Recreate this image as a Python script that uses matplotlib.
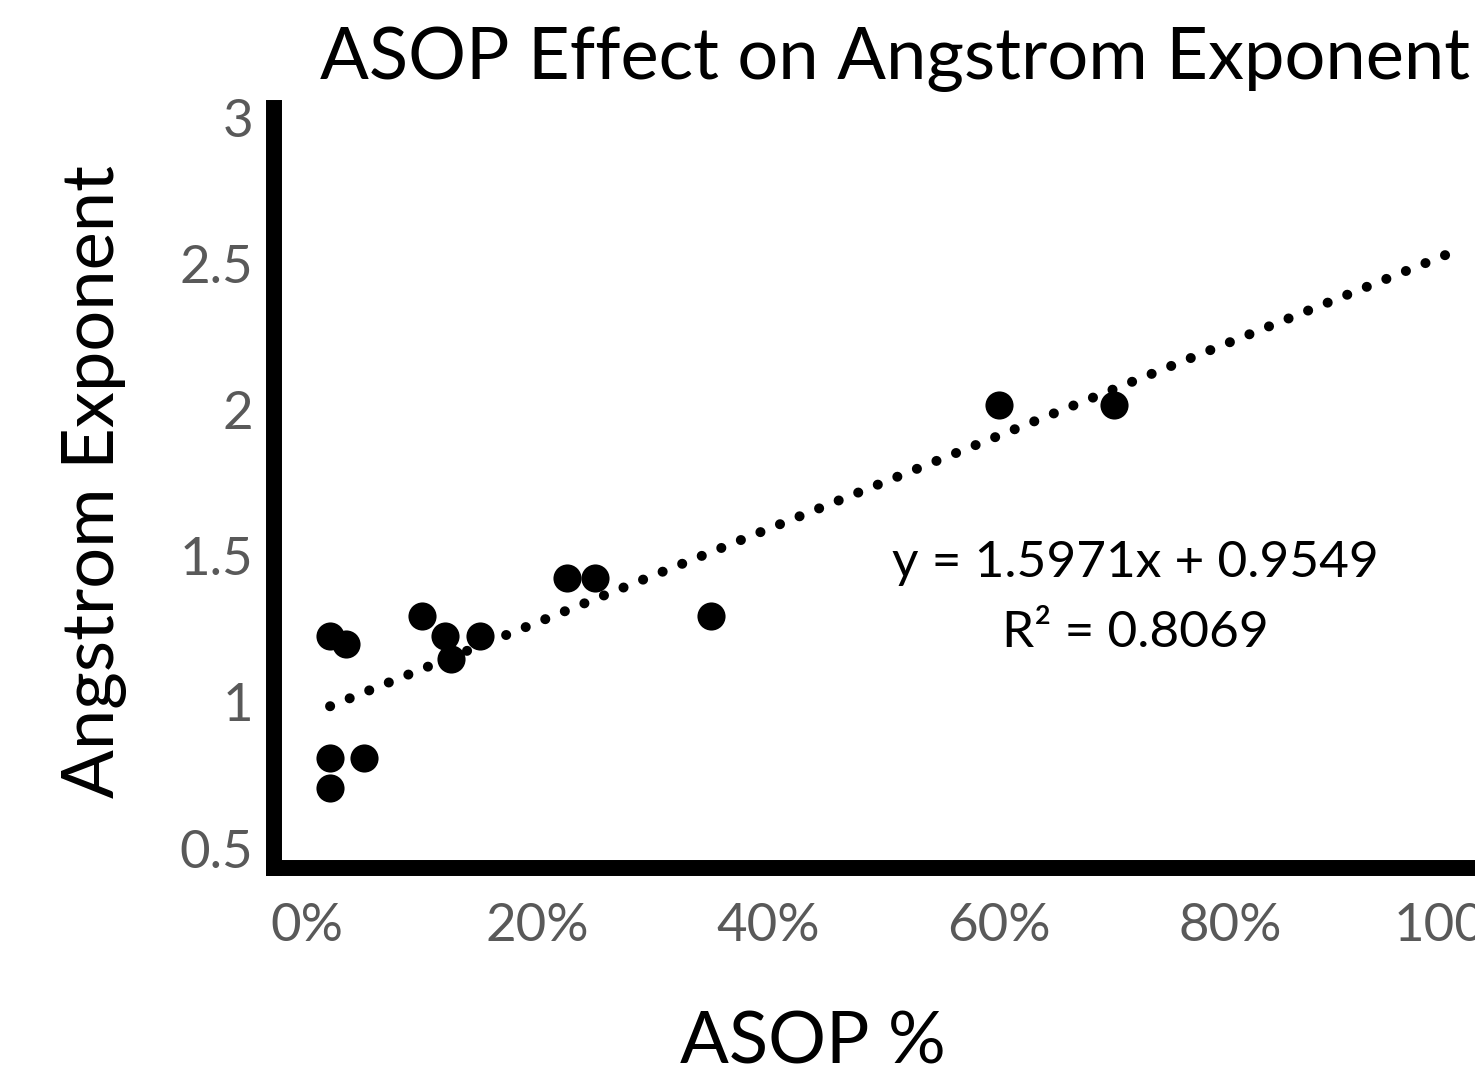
import numpy as np
import matplotlib
matplotlib.use('Agg')
import matplotlib.pyplot as plt
from matplotlib.ticker import PercentFormatter

# Data
asop = [0.02, 0.034, 0.100, 0.120, 0.125, 0.150, 0.225, 0.250, 0.350,
        0.02, 0.049, 0.02, 0.600, 0.700]
angstrom = [1.227, 1.199, 1.296, 1.227, 1.149, 1.227, 1.425, 1.425, 1.296,
            0.809, 0.809, 0.708, 2.018, 2.018]

# Linear trendline as printed on the chart
slope = 1.5971
intercept = 0.9549
r2 = 0.8069
trend_end = 1.0

xticks = [0, 0.2, 0.4, 0.6, 0.8, 1.0]
yticks = [0.5, 1, 1.5, 2, 2.5, 3]

plt.rcParams['font.family'] = ['Lato', 'DejaVu Sans']

W, H = 1475, 1079
fig = plt.figure(figsize=(W / 100., H / 100.), dpi=100)

# plot area in pixels (runs off the right edge like the original)
left_px, right_px, top_px, bottom_px = 274, 1500, 108, 868
ax = fig.add_axes([left_px / W, 1 - bottom_px / H,
                   (right_px - left_px) / W, (bottom_px - top_px) / H])

# pixel scale: 0% at 307, 1153.5 px per unit; y=3 at 118, 292.2 px per unit
ax.set_xlim((left_px - 307) / 1153.5, (right_px - 307) / 1153.5)
ax.set_ylim(3 - (bottom_px - 118) / 292.2, 3 - (top_px - 118) / 292.2)

# Scatter points
ax.scatter(asop, angstrom, s=410, color='black', zorder=3, linewidths=0)

# Dotted trendline
xt = np.array([min(asop), trend_end])
ax.plot(xt, slope * xt + intercept, color='black', lw=7.2,
        dashes=(0.01, 2.1), dash_capstyle='round', zorder=2)

ax.text(0.718, 1.43, 'y = {:.4f}x + {:.4f}'.format(slope, intercept),
        fontsize=37, ha='center', va='baseline')
ax.text(0.718, 1.19, 'R\u00b2 = {:.4f}'.format(r2),
        fontsize=37, ha='center', va='baseline')

# Axes styling
for s in ['top', 'right']:
    ax.spines[s].set_visible(False)
for s in ['left', 'bottom']:
    ax.spines[s].set_linewidth(11.5)
    ax.spines[s].set_capstyle('projecting')

ax.set_xticks(xticks)
ax.set_yticks(yticks)
ax.xaxis.set_major_formatter(PercentFormatter(1.0, decimals=0))
ax.set_yticklabels(['0.5', '1', '1.5', '2', '2.5', '3'])
ax.tick_params(length=0, labelsize=38, labelcolor='#595959')
ax.tick_params(axis='x', pad=25)
ax.tick_params(axis='y', pad=15)

# Titles and labels placed in figure pixels
fig.text(320 / W, 1 - 79 / H, 'ASOP Effect on Angstrom Exponent',
         fontsize=52, ha='left', va='baseline')
fig.text(813 / W, 1 - 1063 / H, 'ASOP %', fontsize=52,
         ha='center', va='baseline')
fig.text(95 / W, 1 - 482 / H, 'Angstrom Exponent', fontsize=52,
         rotation=90, ha='center', va='center')

fig.savefig('out.png', dpi=100)
